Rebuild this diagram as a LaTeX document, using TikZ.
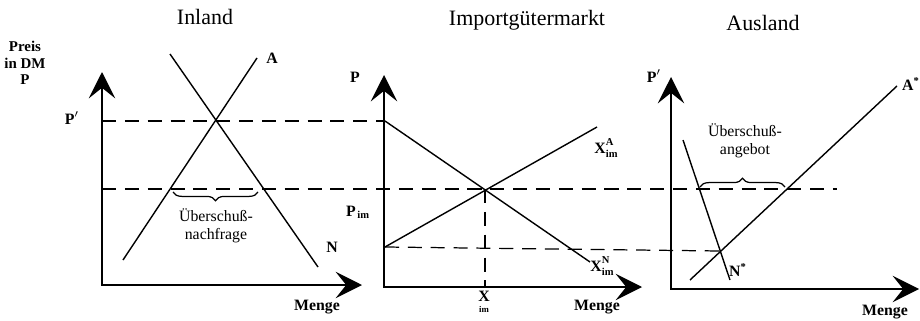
\documentclass[tikz,border=0pt]{standalone}
\usepackage{fontspec}
\setmainfont{Liberation Serif}
\usetikzlibrary{positioning,arrows.meta,decorations.pathreplacing}

\tikzset{
  achse/.style={line width=1.1pt,{Stealth[length=15pt,width=15pt,inset=6pt]}-{Stealth[length=15pt,width=15pt,inset=6pt]}},
  kurve/.style={line width=0.8pt},
  hilfslinie/.style={line width=0.7pt,dash pattern=on 8pt off 5pt},
  klammer/.style={line width=0.7pt,decorate},
  titel/.style={font=\fontsize{12.5}{14}\selectfont},
  lbl/.style={font=\fontsize{9}{10}\selectfont\bfseries,inner sep=0pt},
  txt/.style={font=\fontsize{9}{10.5}\selectfont,align=center,inner sep=0pt},
}
\newcommand{\hochtief}[2]{{\fontsize{6}{6.5}\selectfont\raisebox{-2.5pt}{\shortstack[l]{#1\\#2}}}}

\begin{document}
\begin{tikzpicture}[x=0.02cm,y=-0.02cm]
  \useasboundingbox (0,0) rectangle (920,321);
  \foreach \n/\ox/\oy/\yt/\xt/\mx/\my in {1/102/285/72/362/317/307, 2/384/287/75/642/597/307, 3/671/289/77/919/885/312}{
    \coordinate (o\n) at (\ox,\oy);
    \coordinate (y\n) at (\ox,\yt);
    \coordinate (x\n) at (\xt,\oy);
    \draw[achse] (y\n) -- (o\n) -- (x\n);
    \node[lbl] (menge\n) at (\mx,\my) {Menge};
  }
  \node[titel] (inland) at (205,17) {Inland};
  \node[titel] (import) at (527,20) {Importgütermarkt};
  \node[titel] (ausland) at (763,23) {Ausland};
  \node[lbl,align=center,font=\fontsize{8.5}{9.3}\selectfont\bfseries] (preis) at (25,63) {Preis\\in DM\\P};

  \coordinate (a1s) at (123,260);
  \coordinate (a1e) at (257,58);
  \coordinate (n1s) at (170,54);
  \coordinate (n1e) at (318,267);
  \draw[kurve] (a1s) -- (a1e);
  \draw[kurve] (n1s) -- (n1e);
  \node[lbl] (a1) at (272,58) {A};
  \node[lbl] (n1) at (332,247) {N};
  \node[lbl] (pstrich) at (72,118) {P$'$};

  \coordinate (pl) at (102,121);
  \coordinate (pr) at (384,121);
  \draw[hilfslinie] (pl) -- (pr);
  \coordinate (ml) at (102,189);
  \coordinate (mr) at (837,189);
  \draw[hilfslinie] (ml) -- (mr);

  \coordinate (k1l) at (258,192);
  \coordinate (k1r) at (173,192);
  \draw[klammer,decoration={brace,amplitude=5pt}] (k1l) -- (k1r);
  \node[txt] (ueberschuss1) at (216,226) {Überschuß-\\nachfrage};

  \coordinate (n2s) at (385,121);
  \coordinate (n2e) at (590,262);
  \coordinate (a2s) at (385,247);
  \coordinate (a2e) at (597,127);
  \draw[kurve] (n2s) -- (n2e);
  \draw[kurve] (a2s) -- (a2e);
  \coordinate (gg) at (485,189);
  \coordinate (ggx) at (485,287);
  \draw[hilfslinie] (gg) -- (ggx);
  \node[lbl] (p2) at (355,77) {P};
  \node[lbl] (pim) at (358,212) {P\textsubscript{\,im}};
  \node[lbl,align=center] (xim) at (484,302) {X\\[-4pt]{\fontsize{5}{5}\selectfont im}};
  \node[lbl] (xa) at (606,148) {X\hochtief{A}{im}};
  \node[lbl] (xn) at (602,266) {X\hochtief{N}{im}};

  \coordinate (a3s) at (690,280);
  \coordinate (a3e) at (897,86);
  \coordinate (n3s) at (683,140);
  \coordinate (n3e) at (730,280);
  \draw[kurve] (a3s) -- (a3e);
  \draw[kurve] (n3s) -- (n3e);
  \coordinate (ns) at (720,251);
  \draw[hilfslinie] (a2s) -- (ns);
  \node[lbl] (p3) at (654,76) {P$'$};
  \node[lbl] (a3) at (911,84) {A\textsuperscript{*}};
  \node[lbl] (n3) at (738,270) {N\textsuperscript{*}};

  \coordinate (k3l) at (700,187);
  \coordinate (k3r) at (785,187);
  \draw[klammer,decoration={brace,amplitude=5pt}] (k3l) -- (k3r);
  \node[txt] (ueberschuss3) at (745,141) {Überschuß-\\angebot};
\end{tikzpicture}
\end{document}
